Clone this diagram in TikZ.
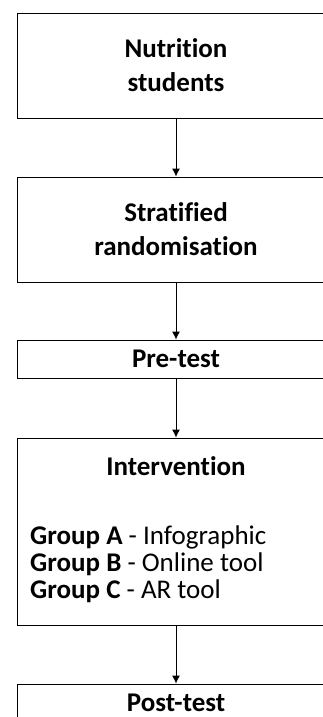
\documentclass[tikz,border=0pt]{standalone}
\usepackage{fontspec}
\setmainfont{Carlito}[Ligatures=NoCommon]
\usepackage{tikz}
\usetikzlibrary{arrows.meta}

\begin{document}
\begin{tikzpicture}[x=1pt,y=-1pt,
  box/.style={draw, line width=0.9pt, minimum width=318pt, inner sep=0pt,
    font=\fontsize{27}{34}\selectfont\bfseries, align=center},
  grouptxt/.style={font=\fontsize{27}{27}\selectfont, anchor=base west, inner sep=0pt},
  arr/.style={-{Latex[length=8pt,width=8pt]}, line width=0.9pt}]
  \useasboundingbox (0,0) rectangle (323,717);
  \node[box, minimum height=105pt] (stud) at (176,65.5) {Nutrition\\students};
  \node[box, minimum height=105pt] (rand) at (176,229.5) {Stratified\\randomisation};
  \node[box, minimum height=38pt] (pre) at (176,359) {Pre-test};
  \node[box, minimum height=187pt] (int) at (176,531.5) {};
  \node[box, minimum height=38pt] (post) at (176,703) {Post-test};
  % text inside the intervention box
  \node[font=\fontsize{27}{27}\selectfont\bfseries, anchor=base] (ttl) at (176,475) {Intervention};
  \node[grouptxt] (grpA) at (30,544) {\textbf{Group A} - Infographic};
  \node[grouptxt] (grpB) at (30,571) {\textbf{Group B} - Online tool};
  \node[grouptxt] (grpC) at (30,598) {\textbf{Group C} - AR tool};
  \draw[arr] (stud) -- (rand);
  \draw[arr] (rand) -- (pre);
  \draw[arr] (pre) -- (int);
  \draw[arr] (int) -- (post);
\end{tikzpicture}
\end{document}
